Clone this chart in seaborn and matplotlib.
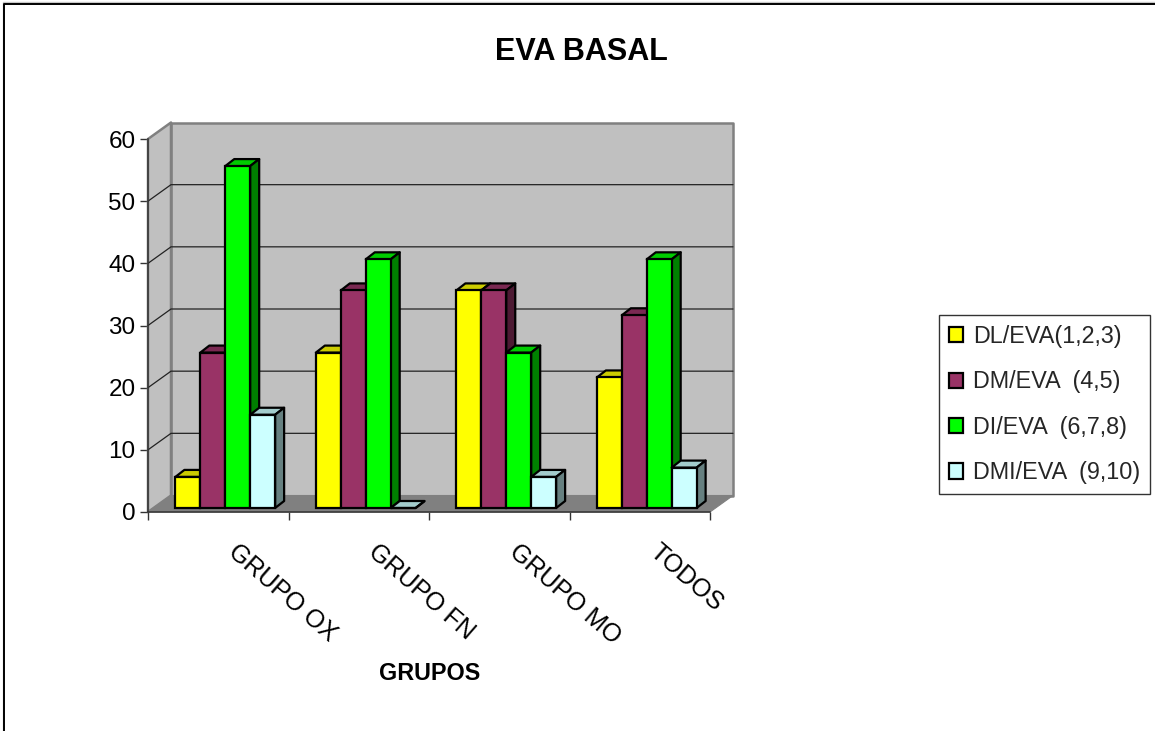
import pandas as pd
import matplotlib
matplotlib.use('Agg')
import matplotlib.pyplot as plt
import seaborn as sns
from matplotlib.colors import to_rgb
from matplotlib.lines import Line2D
from matplotlib.patches import Patch, Polygon
from matplotlib.transforms import Affine2D, IdentityTransform

# values
grupos = ['GRUPO OX', 'GRUPO FN', 'GRUPO MO', 'TODOS']
series = ['DL/EVA(1,2,3)', 'DM/EVA  (4,5)', 'DI/EVA  (6,7,8)', 'DMI/EVA  (9,10)']
dl_eva = [5, 25, 35, 21]
dm_eva = [25, 35, 35, 31]
di_eva = [55, 40, 25, 40]
dmi_eva = [15, 0, 5, 6.5]
colores = ['#FFFF00', '#993366', '#00FF00', '#CCFFFF']
y_ticks = [0, 10, 20, 30, 40, 50, 60]

W, H = 1155, 731
BACK = (23, 16.5)     # depth of the box, px
SHIFT = (7, 4)        # bars stand a bit inside the box
DEPTH = (9, 7)        # depth of one bar

sns.set_theme(style='white')
plt.rcParams['font.family'] = ['Liberation Sans', 'DejaVu Sans']

df = pd.DataFrame({
    'grupo': grupos * 4,
    'serie': [s for s in series for _ in grupos],
    'valor': dl_eva + dm_eva + di_eva + dmi_eva,
})

fig = plt.figure(figsize=(W / 100, H / 100), dpi=100)
ax = fig.add_axes([148 / W, 1 - 512 / H, 562 / W, 373 / H])

sns.barplot(data=df, x='grupo', y='valor', hue='serie', palette=colores, saturation=1,
            width=0.71, gap=0, legend=False, edgecolor='black', linewidth=1.6, ax=ax)
ax.set_xlim(-0.5, 3.5)
ax.set_ylim(0, 60)
ax.patch.set_visible(False)


def to_px(x, y, dx=0, dy=0):
    px, py = ax.transData.transform((x, y))
    return (px + dx, py + dy)


def add_poly(points, face, edge, lw, z):
    ax.add_patch(Polygon(points, closed=True, facecolor=face, edgecolor=edge, linewidth=lw,
                         transform=IdentityTransform(), clip_on=False, zorder=z, joinstyle='round'))


def shade(color, k):
    return tuple(c * k for c in to_rgb(color))


# box: back wall, left wall, floor
x0, x1 = ax.get_xlim()
bx, by = BACK
add_poly([to_px(x0, 0, bx, by), to_px(x1, 0, bx, by), to_px(x1, 60, bx, by), to_px(x0, 60, bx, by)],
         '#C0C0C0', '#808080', 1.8, 0.5)
add_poly([to_px(x0, 0), to_px(x0, 0, bx, by), to_px(x0, 60, bx, by), to_px(x0, 60)],
         '#C0C0C0', '#808080', 1.8, 0.6)
add_poly([to_px(x0, 0), to_px(x1, 0), to_px(x1, 0, bx, by), to_px(x0, 0, bx, by)],
         '#808080', '#808080', 0.8, 0.7)

for v in y_ticks[1:-1]:
    ax.plot(*zip(to_px(x0, v), to_px(x0, v, bx, by), to_px(x1, v, bx, by)), color='#222222', lw=0.9,
            transform=IdentityTransform(), clip_on=False, zorder=0.8)

# 3D faces, left to right so the next bar hides the side of the one before
sx, sy = SHIFT
dx, dy = DEPTH
bars = sorted(ax.patches[:16], key=lambda p: p.get_x())
for i, bar in enumerate(bars):
    z = 3 + i * 0.01
    color = bar.get_facecolor()
    left, right = bar.get_x(), bar.get_x() + bar.get_width()
    top = bar.get_height()
    add_poly([to_px(left, top, sx, sy), to_px(right, top, sx, sy),
              to_px(right, top, sx + dx, sy + dy), to_px(left, top, sx + dx, sy + dy)],
             shade(color, 0.8), 'black', 1.6, z)
    add_poly([to_px(right, 0, sx, sy), to_px(right, 0, sx + dx, sy + dy),
              to_px(right, top, sx + dx, sy + dy), to_px(right, top, sx, sy)],
             shade(color, 0.5), 'black', 1.6, z)
    bar.set_transform(ax.transData + Affine2D().translate(sx, sy))
    bar.set_clip_on(False)
    bar.set_zorder(z + 0.005)

sns.despine(ax=ax, top=True, right=True, left=False, bottom=False)
for side in ['left', 'bottom']:
    ax.spines[side].set_color('#333333')
    ax.spines[side].set_linewidth(1.1)
    ax.spines[side].set_zorder(1)

ax.set_yticks(y_ticks)
ax.tick_params(axis='y', left=True, length=6, width=1, color='#333333', labelsize=17.5, pad=3, labelcolor='black')
ax.set_ylabel('')

# ticks between the groups, labels under the groups
ax.set_xticks([x0 + i for i in range(5)], minor=True)
ax.tick_params(axis='x', which='minor', bottom=True, length=6, width=1, color='#333333')
ax.set_xticks(range(len(grupos)))
ax.set_xticklabels(grupos)
ax.tick_params(axis='x', which='major', bottom=False, labelsize=18, pad=0, labelcolor='black')
for label in ax.get_xticklabels():
    label.set_rotation(-41)
    label.set_rotation_mode('anchor')
    label.set_ha('left')
    label.set_va('center')
    label.set_transform(label.get_transform() + Affine2D().translate(13, -28))

ax.set_xlabel('GRUPOS', fontweight='bold', fontsize=16.8, color='black')
ax.xaxis.set_label_coords((430 - 148) / 562, (512 - 674) / 373, transform=ax.transAxes)
ax.xaxis.label.set_va('center')

fig.text(581 / W, 1 - 52 / H, 'EVA BASAL', fontweight='bold', fontsize=22, ha='center', va='center', color='black')

handles = [Patch(facecolor=c, edgecolor='black', linewidth=1.6) for c in colores]
ax.legend(handles, series, loc='lower left', bbox_to_anchor=(939 / W, 1 - 494 / H), bbox_transform=fig.transFigure,
          fontsize=16.8, frameon=True, fancybox=False, edgecolor='#333333', framealpha=1, labelspacing=0.96,
          handlelength=0.62, handleheight=0.62, handletextpad=0.42, borderpad=0.42, borderaxespad=0)

# chart area border, cut by the picture on the right and bottom
for color, off, lw in [('#C8C8C8', 1.5, 1.0), ('black', 0, 1.4)]:
    fig.add_artist(Line2D([(4 - off) / W, (4 - off) / W, 1], [0, 1 - (3.5 - off) / H, 1 - (3.5 - off) / H],
                          color=color, lw=lw, transform=fig.transFigure))

fig.savefig('out.png', dpi=100)
